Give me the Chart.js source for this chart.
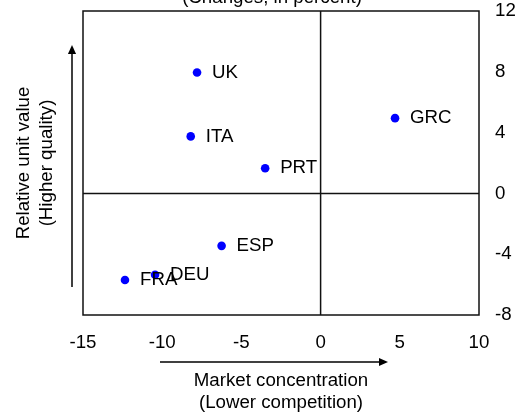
<!DOCTYPE html>
<html><head><meta charset="utf-8">
<script src="https://cdn.jsdelivr.net/npm/chart.js@4/dist/chart.umd.min.js"></script>
<style>html,body{margin:0;padding:0;background:#fff}#wrap{width:526px;height:414px;position:relative}</style>
</head><body><div id="wrap"><canvas id="c"></canvas></div>
<script>
const countries = ['UK','ITA','PRT','GRC','ESP','DEU','FRA'];
const marketConcentration = [-7.8,-8.2,-3.5,4.7,-6.25,-10.45,-12.35];
const relativeUnitValue = [7.95,3.75,1.65,4.95,-3.45,-5.35,-5.7];
const xTicks = [-15,-10,-5,0,5,10];
const yTicks = [-8,-4,0,4,8,12];
const chartTitle = '(Changes, in percent)';
const xTitle = ['Market concentration','(Lower competition)'];
const yTitle = ['Relative unit value','(Higher quality)'];

const FONT_FAMILY = '"Liberation Sans", Arial, sans-serif';
const FS = 18.7;
const font = FS + 'px ' + FONT_FAMILY;

function arrow(ctx, x1, y1, x2, y2, head){
  const ang = Math.atan2(y2-y1, x2-x1);
  const bx = x2 - head*Math.cos(ang), by = y2 - head*Math.sin(ang);
  ctx.beginPath(); ctx.moveTo(x1,y1); ctx.lineTo(bx,by); ctx.stroke();
  const w = head*0.45;
  ctx.beginPath();
  ctx.moveTo(x2,y2);
  ctx.lineTo(bx + w*Math.sin(ang), by - w*Math.cos(ang));
  ctx.lineTo(bx - w*Math.sin(ang), by + w*Math.cos(ang));
  ctx.closePath(); ctx.fill();
}

const deco = {
  id:'deco',
  beforeDatasetsDraw(chart){
    const {ctx, chartArea:a, scales:{x,y}} = chart;
    ctx.save();
    ctx.strokeStyle='#111'; ctx.lineWidth=1.5;
    ctx.strokeRect(a.left,a.top,a.right-a.left,a.bottom-a.top);
    const x0=x.getPixelForValue(0), y0=y.getPixelForValue(0);
    ctx.beginPath();
    ctx.moveTo(x0,a.top); ctx.lineTo(x0,a.bottom);
    ctx.moveTo(a.left,y0); ctx.lineTo(a.right,y0);
    ctx.stroke();
    ctx.restore();
  },
  afterDatasetsDraw(chart){
    const {ctx, chartArea:a} = chart;
    const meta = chart.getDatasetMeta(0);
    ctx.save();
    ctx.font = font; ctx.fillStyle='#000';
    ctx.textBaseline='middle'; ctx.textAlign='left';
    meta.data.forEach((pt,i)=>ctx.fillText(countries[i], pt.x+15, pt.y));
    // cut-off title
    ctx.textAlign='center'; ctx.textBaseline='alphabetic';
    ctx.fillText(chartTitle, a.left+189, 3);
    // x title
    ctx.textBaseline='middle';
    const cx = (a.left+a.right)/2;
    ctx.fillText(xTitle[0], cx, a.bottom+66);
    ctx.fillText(xTitle[1], cx, a.bottom+88);
    // y title
    ctx.save();
    ctx.translate(0, 163); ctx.rotate(-Math.PI/2);
    ctx.fillText(yTitle[0], 0, 24);
    ctx.fillText(yTitle[1], 0, 47);
    ctx.restore();
    // arrows
    ctx.strokeStyle='#000'; ctx.lineWidth=1.5;
    arrow(ctx, 160, a.bottom+47, 388, a.bottom+47, 9);
    arrow(ctx, a.left-11, 287, a.left-11, 45, 9);
    ctx.restore();
  }
};

new Chart(document.getElementById('c'), {
  type:'scatter',
  data:{datasets:[{
    data: countries.map((c,i)=>({x:marketConcentration[i], y:relativeUnitValue[i]})),
    backgroundColor:'#0000ff', borderColor:'#0000ff', pointRadius:4.3, pointHoverRadius:4.3, borderWidth:0
  }]},
  options:{
    responsive:true, maintainAspectRatio:false, animation:false,
    events:[],
    layout:{padding:{left:83,top:11,right:0,bottom:0}},
    plugins:{legend:{display:false}, tooltip:{enabled:false}, title:{display:false}},
    scales:{
      x:{type:'linear', position:'bottom', min:-15, max:10,
        afterBuildTicks:s=>{s.ticks = xTicks.map(v=>({value:v}));},
        afterFit:s=>{s.height=99; s.paddingLeft=0; s.paddingRight=0;},
        grid:{display:false, drawTicks:false}, border:{display:false},
        ticks:{padding:17, color:'#000', font:{family:FONT_FAMILY, size:FS}, maxRotation:0}
      },
      y:{type:'linear', position:'right', min:-8, max:12,
        afterBuildTicks:s=>{s.ticks = yTicks.map(v=>({value:v}));},
        afterFit:s=>{s.width=47; s.paddingTop=0; s.paddingBottom=0;},
        grid:{display:false, drawTicks:false}, border:{display:false},
        ticks:{padding:16, color:'#000', font:{family:FONT_FAMILY, size:FS}}
      }
    }
  },
  plugins:[deco]
});
</script></body></html>
